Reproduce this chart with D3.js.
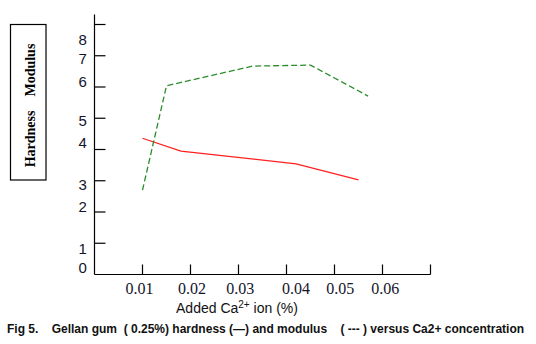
<!DOCTYPE html>
<html>
<head>
<meta charset="utf-8">
<script src="https://cdn.jsdelivr.net/npm/d3@7"></script>
<style>
  html, body { margin: 0; padding: 0; background: #fff; }
  svg { display: block; }
</style>
</head>
<body>
<svg id="chart" width="536" height="344"></svg>
<script>
// Added Ca2+ ion (%) and measured gel properties
const hardnessCa = [0.010, 0.018, 0.042, 0.055];
const hardness   = [4.36, 3.95, 3.54, 3.03];
const modulusCa  = [0.010, 0.015, 0.033, 0.045, 0.057];
const modulus    = [2.70, 6.04, 6.67, 6.70, 5.71];

const yTickValues = [0, 1, 2, 3, 4, 5, 6, 7, 8];
const yTickLabels = ["0", "1", "2", "3", "4", "5", "6", "7", "8"];
const xTickValues = [0.01, 0.02, 0.03, 0.04, 0.05, 0.06, 0.07];
const xTickLabels = ["0.01", "0.02", "0.03", "0.04", "0.05", "0.06", ""];

// hand-set label placement (pixels) as typeset on the printed figure
const yLabelNudge = [-7, 5, -5, 4, -7, 2, -5, 3, 15];
const xLabelNudge = [-3, 1.4, 1.7, 9.4, 5.7, 2.7, 0];

const svg = d3.select("#chart");

const x = d3.scaleLinear().domain([0, 0.07]).range([94.5, 430.5]);
const y = d3.scaleLinear().domain([0, 8]).range([274.5, 24.5]);
const yTop = 8.32;

const axisG = svg.append("g").attr("stroke", "#000").attr("stroke-width", 1.2).attr("fill", "none");

// axis lines
axisG.append("line")
  .attr("x1", x(0)).attr("x2", x(0))
  .attr("y1", y(yTop)).attr("y2", y(0));
axisG.append("line")
  .attr("x1", x(0)).attr("x2", x(0.07))
  .attr("y1", y(0)).attr("y2", y(0));

// inward ticks
axisG.selectAll(".yt").data(yTickValues.slice(1)).join("line")
  .attr("x1", x(0)).attr("x2", x(0) + 11)
  .attr("y1", d => y(d)).attr("y2", d => y(d));
axisG.selectAll(".xt").data(xTickValues).join("line")
  .attr("x1", d => x(d)).attr("x2", d => x(d))
  .attr("y1", y(0)).attr("y2", y(0) - 10);

// tick labels
svg.append("g").selectAll("text").data(yTickValues).join("text")
  .attr("x", 82.7)
  .attr("y", (d, i) => y(d) + yLabelNudge[i])
  .attr("dy", "0.36em")
  .attr("text-anchor", "middle")
  .attr("font-family", "Liberation Sans, Arial, sans-serif")
  .attr("font-size", 15)
  .attr("fill", "#14142a")
  .text((d, i) => yTickLabels[i]);

svg.append("g").selectAll("text").data(xTickValues).join("text")
  .attr("x", (d, i) => x(d) + xLabelNudge[i])
  .attr("y", 288.5)
  .attr("dy", "0.35em")
  .attr("text-anchor", "middle")
  .attr("font-family", "Liberation Serif, Times New Roman, serif")
  .attr("font-size", 16)
  .attr("fill", "#14142a")
  .text((d, i) => xTickLabels[i]);

// x axis title with superscript charge
const xt = svg.append("text")
  .attr("x", 237).attr("y", 313)
  .attr("text-anchor", "middle")
  .attr("font-family", "Liberation Sans, Arial, sans-serif")
  .attr("font-size", 14)
  .attr("fill", "#111");
xt.append("tspan").text("Added Ca");
xt.append("tspan").attr("dy", -5).attr("font-size", 10).text("2+");
xt.append("tspan").attr("dy", 5).text(" ion (%)");

// boxed y axis title
svg.append("rect")
  .attr("x", 10.5).attr("y", 24.5)
  .attr("width", 35.5).attr("height", 155.5)
  .attr("fill", "none").attr("stroke", "#000").attr("stroke-width", 1.2);
svg.append("text")
  .attr("transform", "translate(35,105.5) rotate(-90)")
  .attr("text-anchor", "middle")
  .attr("font-family", "Liberation Serif, Times New Roman, serif")
  .attr("font-weight", "bold")
  .attr("font-size", 14)
  .attr("fill", "#000")
  .style("white-space", "pre")
  .text("Hardness    Modulus");

// series
const line = d3.line().x(d => x(d[0])).y(d => y(d[1]));

svg.append("path")
  .datum(d3.zip(hardnessCa, hardness))
  .attr("d", line)
  .attr("fill", "none")
  .attr("stroke", "#ff2020")
  .attr("stroke-width", 1.3);

svg.append("path")
  .datum(d3.zip(modulusCa, modulus))
  .attr("d", line)
  .attr("fill", "none")
  .attr("stroke", "#2a8c2a")
  .attr("stroke-width", 1.3)
  .attr("stroke-dasharray", "6,3");

// caption
svg.append("text")
  .attr("x", 7).attr("y", 333)
  .attr("font-family", "Liberation Sans, Arial, sans-serif")
  .attr("font-weight", "bold")
  .attr("font-size", 12)
  .attr("fill", "#111")
  .style("white-space", "pre")
  .text("Fig 5.    Gellan gum  ( 0.25%) hardness (\u2014) and modulus    ( --- ) versus Ca2+ concentration");
</script>
</body>
</html>
